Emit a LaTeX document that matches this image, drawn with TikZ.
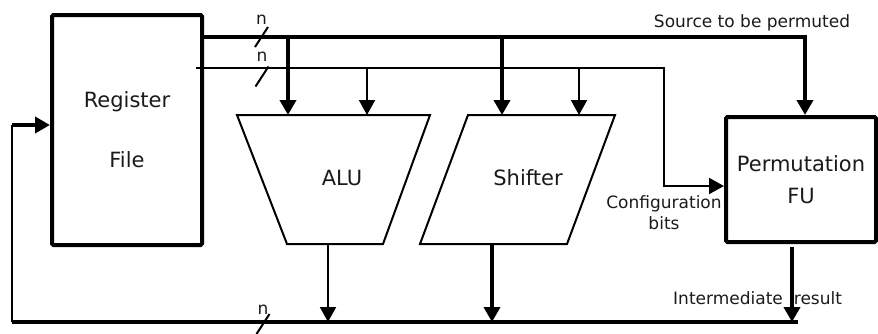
\documentclass[tikz,border=0pt]{standalone}
\usepackage{fontspec}
\setmainfont{DejaVu Sans}
\usetikzlibrary{positioning,arrows.meta,calc}
\definecolor{inkcol}{HTML}{1A1A1A}
\newcommand{\bigtext}{\fontsize{21}{25}\selectfont}
\newcommand{\smalltext}{\fontsize{17}{21}\selectfont}

\begin{document}
\begin{tikzpicture}[x=1pt,y=-1pt,
  bus/.style={line width=4pt},
  wire/.style={line width=2pt},
  tip/.style={-{Triangle[width=16pt,length=15pt]}},
  unit/.style={draw,line width=4pt,rounded corners=1.5pt,align=center,text=inkcol},
  lbl/.style={font=\smalltext,inner sep=0pt,align=center,text=inkcol}]
\useasboundingbox (0,0) rectangle (878,333);

% register file and permutation unit
\node[unit,minimum width=150pt,minimum height=230pt,
      font=\fontsize{21}{60}\selectfont] (rf) at (127,130) {Register\\File};
\node[unit,minimum width=150pt,minimum height=125pt,
      font=\fontsize{21}{32}\selectfont] (pfu) at (801,179.5) {Permutation\\FU};

% ALU and shifter
\node[font=\bigtext,text=inkcol] (alu) at (342,178) {ALU};
\draw[wire] (237,115) -- (430,115) -- (383,244) -- (287,244) -- cycle;
\node[font=\bigtext,text=inkcol] (shf) at (528,178) {Shifter};
\draw[wire] (468,115) -- (615,115) -- (567,244) -- (420,244) -- cycle;

\coordinate (aluA) at (288,115);
\coordinate (aluB) at (367,115);
\coordinate (shfA) at (502,115);
\coordinate (shfB) at (579,115);
\coordinate (srcend) at (805,37);
\coordinate (tapstart) at (196,68);
\coordinate (cfg) at (664,68);
\coordinate (cfgin) at (664,186);

% source bus and configuration wire
\draw[bus,tip] (rf.east |- srcend) -- (srcend) -- (srcend |- pfu.north);
\draw[bus,tip] (aluA |- srcend) -- (aluA);
\draw[bus,tip] (shfA |- srcend) -- (shfA);
\draw[wire,tip] (tapstart) -- (cfg) -- (cfgin) -- (cfgin -| pfu.west);
\draw[wire,tip] (aluB |- cfg) -- (aluB);
\draw[wire,tip] (shfB |- cfg) -- (shfB);

% result bus
\coordinate (aluout) at (328,244);
\coordinate (shfout) at (492,244);
\coordinate (pfuout) at (792,247);
\coordinate (busend) at (798,322);
\coordinate (buscorner) at (12,322);
\coordinate (fbturn) at (12,125);
\draw[wire,tip] (aluout) -- (aluout |- busend);
\draw[bus,tip] (shfout) -- (shfout |- busend);
\draw[bus,tip] (pfuout) -- (pfuout |- busend);
\draw[bus] (busend) -- (buscorner);
\draw[wire] (buscorner) -- (fbturn);
\draw[bus,tip] (fbturn) -- (fbturn -| rf.west);

% bus widths
\foreach \sx/\sy/\ny [count=\k] in {261.5/37/20, 262/76.5/57, 263/324/310} {
  \draw[wire] (\sx-6.5,\sy+10) -- (\sx+6.5,\sy-10);
  \node[lbl] (nlab\k) at (\sx,\ny) {n};
}

\node[lbl] (srclbl) at (752,23) {Source to be permuted};
\node[lbl] (cfglbl) at (664,213) {Configuration\\bits};
\node[lbl,anchor=west] (reslbl) at (673,298) {Intermediate\hspace{11pt}result};

\end{tikzpicture}
\end{document}
